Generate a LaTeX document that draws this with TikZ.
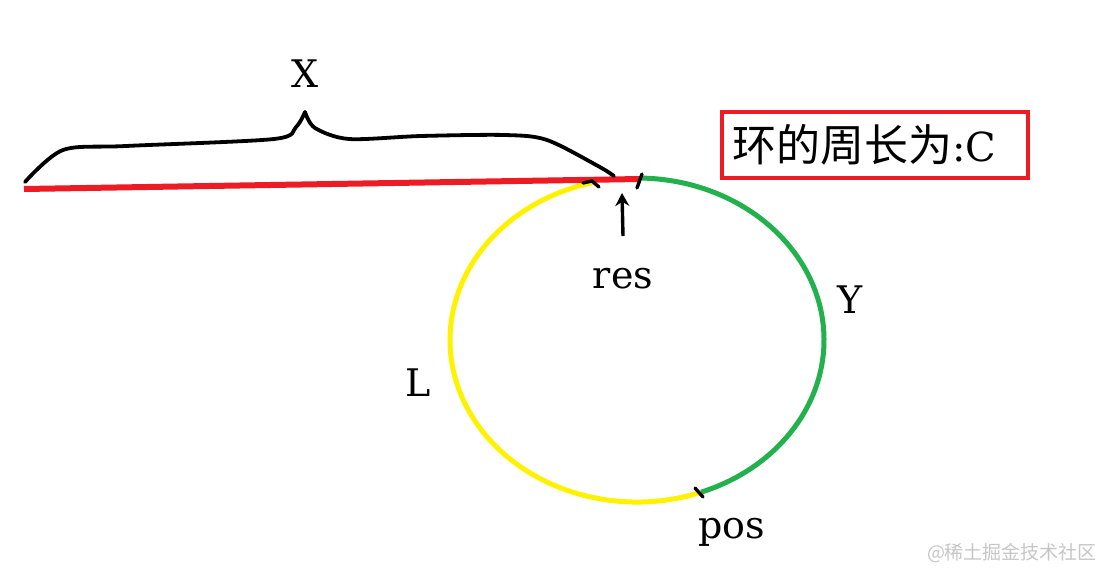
\documentclass[tikz,border=0pt]{standalone}
\usepackage{fontspec}
\setmainfont{DejaVu Serif}
\newfontfamily\cjk{Noto Sans CJK SC}
\usetikzlibrary{arrows.meta, calc, positioning}
\definecolor{color1}{RGB}{237,28,36}
\definecolor{color2}{RGB}{34,177,76}
\definecolor{color3}{RGB}{255,242,0}

\begin{document}
\begin{tikzpicture}[x=1pt,y=-1pt,
    lbl/.style={font=\fontsize{38}{40}\selectfont,anchor=base,inner sep=0pt},
    ring/.style={line width=5pt},
    cut/.style={line width=3.4pt,line cap=round},
    brace/.style={line width=3.8pt,line join=round,line cap=round}]
		\useasboundingbox (0,0) rectangle (1100,573);
		\coordinate (ctr) at (637,340);
		% ring: green part and yellow part
		\draw[ring,color2] ($(ctr)+(-89:187 and 162)$) arc[start angle=-89,end angle=70,x radius=187,y radius=162];
		\draw[ring,color3] ($(ctr)+(70:187 and 162)$) arc[start angle=70,end angle=257,x radius=187,y radius=162];
		% tail X
		\coordinate (start) at (24,189);
		\coordinate (meet) at (640,179);
		\draw[color1,line width=6pt] (start) -- (meet);
		\draw[brace] plot[smooth] coordinates {(25,182) (63,150) (126,146) (274,139) (296,127) (305,112)};
		\draw[brace] plot[smooth] coordinates {(305,112) (315,128) (349,139) (421,136) (505,135) (547,140) (598,166) (614,176)};
		% cuts on the ring
		\draw[cut] (642,174) -- (637,188);
		\draw[cut] (583,183) -- (592,181) -- (599,187);
		\coordinate (meetpos) at (699,492);
		\draw[cut] (695,488) -- (703,497);
		% labels
		\node[lbl] (lx) at (305,87) {X};
		\node[lbl] (lres) at (623,288) {res};
		\node[lbl] (ly) at (850,313) {Y};
		\node[lbl] (ll) at (418,396) {L};
		\node[lbl] (lpos) at (732,538) {pos};
		\coordinate (tip) at (622,193);
		\draw[line width=3.4pt,-{Stealth[length=13pt,width=14pt]}] (623,236) -- (tip);
		\node[draw=color1,line width=4pt,minimum width=306pt,minimum height=66pt,inner sep=0pt,text width=286pt,align=left] (len) at (875,145)
		    {\fontsize{44}{46}\selectfont\cjk 环的周长为\rmfamily\fontsize{40}{42}\selectfont:C};
		\node[text=gray!45,font=\cjk\fontsize{19}{20}\selectfont] (wm) at (1012,553) {@稀土掘金技术社区};
\end{tikzpicture}
\end{document}
